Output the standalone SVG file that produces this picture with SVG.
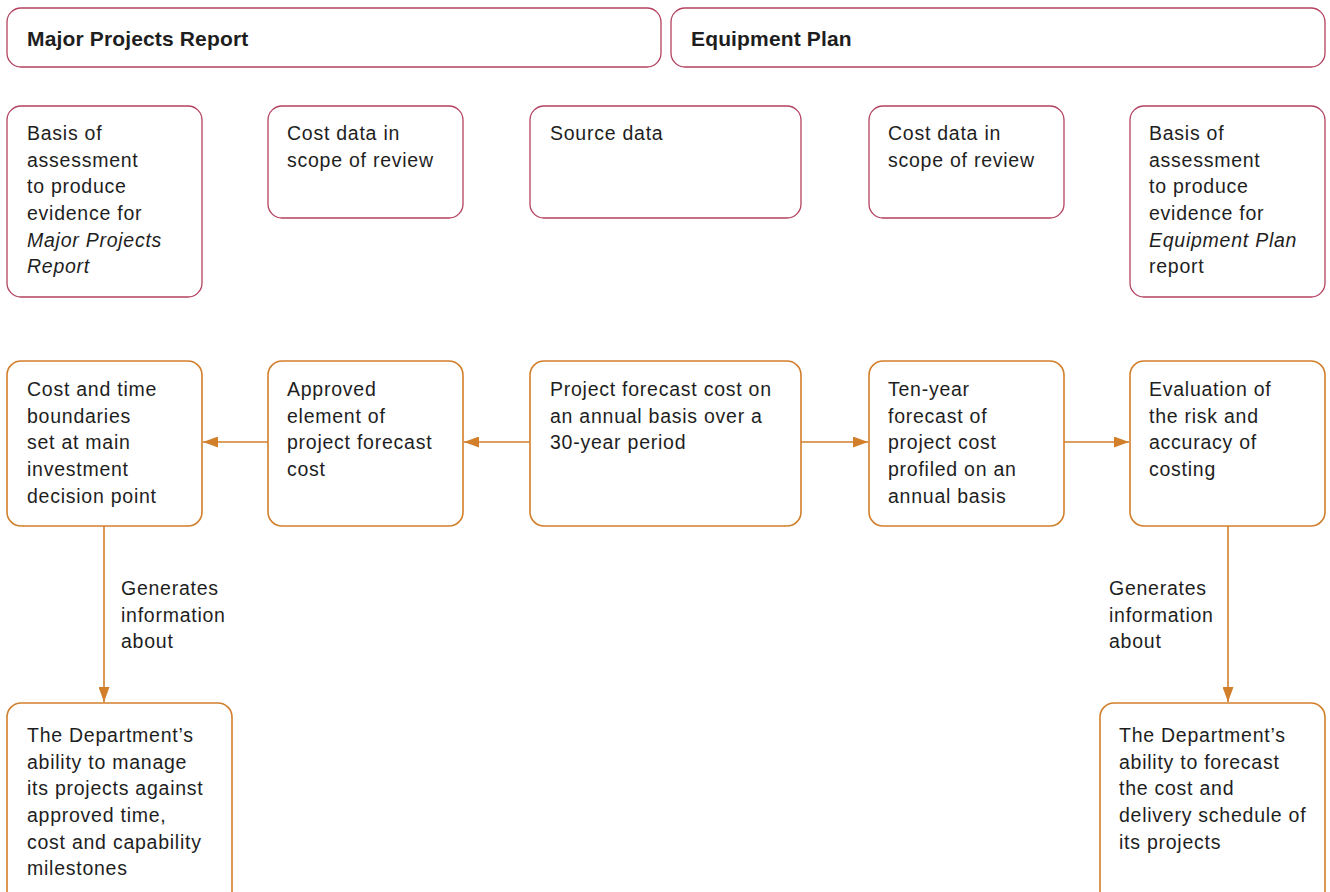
<svg xmlns="http://www.w3.org/2000/svg" width="1330" height="892" viewBox="0 0 1330 892">
<style>
.red{fill:#fff;stroke:#b4415f;stroke-width:1.3}
.org{fill:#fff;stroke:#d27f2b;stroke-width:1.6}
text{font-family:"Liberation Sans",Arial,sans-serif;font-size:19.5px;letter-spacing:0.75px;fill:#1e1e1e}
.h{font-weight:bold;font-size:21px;letter-spacing:0.15px}
.conn{stroke:#d27f2b;stroke-width:1.6;fill:none}
</style>
<defs>
<marker id="ah" viewBox="0 0 15 11" refX="15" refY="5.5" markerWidth="15" markerHeight="11" markerUnits="userSpaceOnUse" orient="auto">
<path d="M0,0 L15,5.5 L0,11 Z" fill="#d27f2b"/>
</marker>
</defs>
<rect width="1330" height="892" fill="#fff"/>
<g id="mpr"><rect class="red" x="7" y="8" width="654" height="59" rx="14"/><text class="h" x="27" y="46">Major Projects Report</text></g>
<g id="ep"><rect class="red" x="671" y="8" width="654" height="59" rx="14"/><text class="h" x="691" y="46">Equipment Plan</text></g>

<g id="basis1"><rect class="red" x="7" y="106" width="195" height="191" rx="14"/>
<text x="27" y="140">Basis of</text><text x="27" y="166.7">assessment</text><text x="27" y="193.4">to produce</text><text x="27" y="220">evidence for</text><text x="27" y="246.7" font-style="italic">Major Projects</text><text x="27" y="273.4" font-style="italic">Report</text></g>
<g id="cost1"><rect class="red" x="268" y="106" width="195" height="112" rx="14"/>
<text x="287" y="140">Cost data in</text><text x="287" y="166.7">scope of review</text></g>
<g id="source"><rect class="red" x="530" y="106" width="271" height="112" rx="14"/>
<text x="550" y="140">Source data</text></g>
<g id="cost2"><rect class="red" x="869" y="106" width="195" height="112" rx="14"/>
<text x="888" y="140">Cost data in</text><text x="888" y="166.7">scope of review</text></g>
<g id="basis2"><rect class="red" x="1130" y="106" width="195" height="191" rx="14"/>
<text x="1149" y="140">Basis of</text><text x="1149" y="166.7">assessment</text><text x="1149" y="193.4">to produce</text><text x="1149" y="220">evidence for</text><text x="1149" y="246.7" font-style="italic">Equipment Plan</text><text x="1149" y="273.4">report</text></g>

<g id="boundaries"><rect class="org" x="7" y="361" width="195" height="165" rx="14"/>
<text x="27" y="396">Cost and time</text><text x="27" y="422.7">boundaries</text><text x="27" y="449.4">set at main</text><text x="27" y="476">investment</text><text x="27" y="502.7">decision point</text></g>
<g id="approved"><rect class="org" x="268" y="361" width="195" height="165" rx="14"/>
<text x="287" y="396">Approved</text><text x="287" y="422.7">element of</text><text x="287" y="449.4">project forecast</text><text x="287" y="476">cost</text></g>
<g id="forecast"><rect class="org" x="530" y="361" width="271" height="165" rx="14"/>
<text x="550" y="396">Project forecast cost on</text><text x="550" y="422.7">an annual basis over a</text><text x="550" y="449.4">30-year period</text></g>
<g id="tenyear"><rect class="org" x="869" y="361" width="195" height="165" rx="14"/>
<text x="888" y="396">Ten-year</text><text x="888" y="422.7">forecast of</text><text x="888" y="449.4">project cost</text><text x="888" y="476">profiled on an</text><text x="888" y="502.7">annual basis</text></g>
<g id="evaluation"><rect class="org" x="1130" y="361" width="195" height="165" rx="14"/>
<text x="1149" y="396">Evaluation of</text><text x="1149" y="422.7">the risk and</text><text x="1149" y="449.4">accuracy of</text><text x="1149" y="476">costing</text></g>

<g id="dept1"><rect class="org" x="7" y="703" width="225" height="210" rx="14"/>
<text x="27" y="742">The Department’s</text><text x="27" y="768.7">ability to manage</text><text x="27" y="795.4">its projects against</text><text x="27" y="822">approved time,</text><text x="27" y="848.7">cost and capability</text><text x="27" y="875.4">milestones</text></g>
<g id="dept2"><rect class="org" x="1100" y="703" width="225" height="210" rx="14"/>
<text x="1119" y="742">The Department’s</text><text x="1119" y="768.7">ability to forecast</text><text x="1119" y="795.4">the cost and</text><text x="1119" y="822">delivery schedule of</text><text x="1119" y="848.7">its projects</text></g>

<g id="connectors">
<line class="conn" x1="530" y1="442" x2="464" y2="442" marker-end="url(#ah)"/>
<line class="conn" x1="268" y1="442" x2="203" y2="442" marker-end="url(#ah)"/>
<line class="conn" x1="801" y1="442" x2="868" y2="442" marker-end="url(#ah)"/>
<line class="conn" x1="1064" y1="442" x2="1129" y2="442" marker-end="url(#ah)"/>
<line class="conn" x1="104" y1="526" x2="104" y2="702" marker-end="url(#ah)"/>
<line class="conn" x1="1228" y1="526" x2="1228" y2="702" marker-end="url(#ah)"/>
<text x="121" y="595">Generates</text><text x="121" y="621.7">information</text><text x="121" y="648.4">about</text>
<text x="1109" y="595">Generates</text><text x="1109" y="621.7">information</text><text x="1109" y="648.4">about</text>
</g>
</svg>
